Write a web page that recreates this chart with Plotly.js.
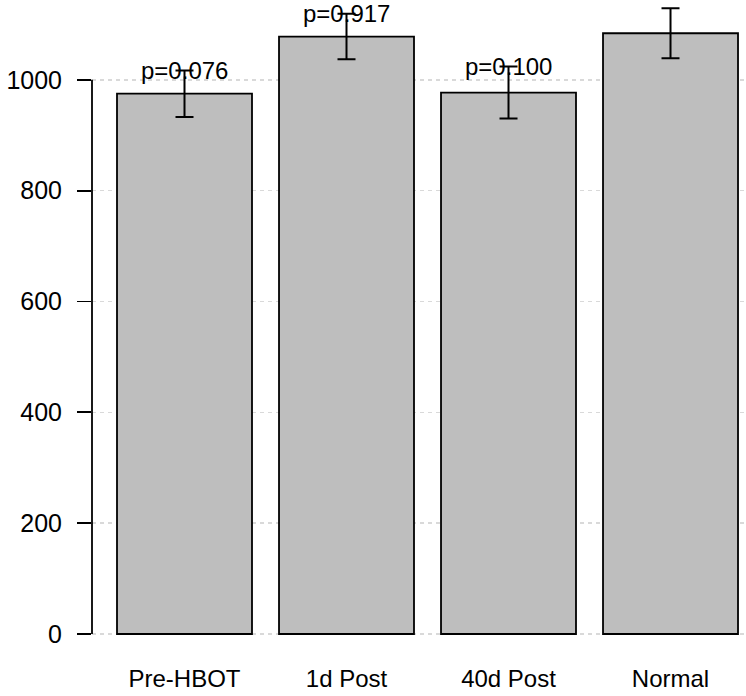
<!DOCTYPE html>
<html><head><meta charset="utf-8">
<script src="https://cdn.plot.ly/plotly-3.0.1.min.js"></script>
<style>body{margin:0;padding:0;background:#fff}#chart{width:746px;height:696px}</style>
</head><body><div id="chart"></div>
<script>
var categories = ["Pre-HBOT", "1d Post", "40d Post", "Normal"];
var means = [975, 1078, 977, 1084];
var errors = [42, 41, 47, 45];
var pLabels = ["p=0.076", "p=0.917", "p=0.100", ""];
var yTicks = [0, 200, 400, 600, 800, 1000];

var font = {family: "Liberation Sans, Arial, sans-serif", size: 24, color: "#000"};
var yFont = {family: "Liberation Sans, Arial, sans-serif", size: 25, color: "#000"};

var trace = {
  type: "bar",
  x: categories,
  y: means,
  width: 0.8333,
  marker: {color: "#bebebe", line: {color: "#000", width: 1.8}},
  error_y: {type: "data", array: errors, visible: true, color: "#000", thickness: 2, width: 9},
  hoverinfo: "none"
};

var annotations = [];
for (var i = 0; i < categories.length; i++) {
  if (!pLabels[i]) continue;
  annotations.push({
    x: categories[i], y: means[i] + errors[i], xref: "x", yref: "y",
    text: pLabels[i], showarrow: false, yanchor: "middle", xanchor: "center",
    font: font
  });
}

var layout = {
  width: 746, height: 696,
  margin: {l: 92, r: 0, t: 0, b: 46},
  paper_bgcolor: "#fff", plot_bgcolor: "#fff",
  font: font,
  showlegend: false,
  xaxis: {
    type: "category", range: [-0.571, 3.466],
    showgrid: false, showline: false, zeroline: false, ticks: "",
    ticklabelstandoff: 12,
    tickfont: font, fixedrange: true
  },
  yaxis: {
    range: [-28.9, 1144], tickvals: yTicks, ticktext: yTicks.map(String),
    showgrid: true, gridcolor: "#d9d9d9", griddash: "4px,4px", gridwidth: 1.5,
    zeroline: false, showline: false,
    ticks: "outside", ticklen: 14, tickwidth: 1.8, tickcolor: "#000",
    ticklabelstandoff: 10,
    tickfont: yFont, fixedrange: true
  },
  shapes: [{
    type: "line", xref: "paper", yref: "y", x0: 0, x1: 0, y0: yTicks[0], y1: yTicks[yTicks.length - 1],
    line: {color: "#000", width: 1.8}
  }],
  annotations: annotations
};

Plotly.newPlot("chart", [trace], layout, {displayModeBar: false, staticPlot: true});
</script></body></html>
